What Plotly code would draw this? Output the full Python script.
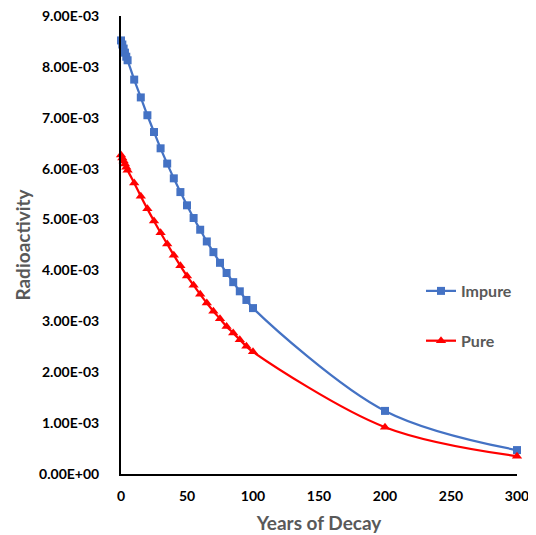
import plotly.graph_objects as go

years = [0, 1, 2, 3, 4, 5, 10, 15, 20, 25, 30, 35, 40, 45, 50, 55, 60, 65, 70, 75,
         80, 85, 90, 95, 100, 200, 300]
impure = [8.52e-3, 8.44e-3, 8.36e-3, 8.28e-3, 8.20e-3, 8.13e-3, 7.75e-3, 7.40e-3, 7.05e-3,
          6.72e-3, 6.40e-3, 6.10e-3, 5.81e-3, 5.54e-3, 5.28e-3, 5.03e-3, 4.80e-3,
          4.57e-3, 4.36e-3, 4.15e-3, 3.95e-3, 3.77e-3, 3.59e-3, 3.42e-3, 3.26e-3,
          1.24e-3, 4.7e-4]
pure = [6.27e-3, 6.21e-3, 6.15e-3, 6.09e-3, 6.03e-3, 5.97e-3, 5.72e-3, 5.46e-3, 5.21e-3,
        4.97e-3, 4.74e-3, 4.52e-3, 4.30e-3, 4.09e-3, 3.89e-3, 3.71e-3, 3.53e-3,
        3.36e-3, 3.20e-3, 3.05e-3, 2.90e-3, 2.77e-3, 2.64e-3, 2.51e-3, 2.40e-3,
        9.2e-4, 3.5e-4]
y_ticks = [0.0, 0.001, 0.002, 0.003, 0.004, 0.005, 0.006, 0.007, 0.008, 0.009]
x_ticks = [0, 50, 100, 150, 200, 250, 300]


def excel_sci(v):
    if v == 0:
        return "0.00E+00"
    s = f"{v:.2E}"
    mant, exp = s.split("E")
    sign = exp[0]
    num = int(exp[1:])
    return f"{mant}E{sign}{num:02d}"


y_text = [excel_sci(v) for v in y_ticks]

fig = go.Figure()
fig.add_trace(go.Scatter(
    x=years, y=impure, name="Impure", mode="lines+markers",
    line=dict(color="#4472C4", width=2.25, shape="spline", smoothing=1.0),
    marker=dict(symbol="square", size=8, color="#4472C4"),
    legendgroup="a", cliponaxis=False,
))
fig.add_trace(go.Scatter(
    x=years, y=pure, name="Pure", mode="lines+markers",
    line=dict(color="#FF0000", width=2.25, shape="spline", smoothing=1.0),
    marker=dict(symbol="triangle-up", size=9, color="#FF0000"),
    legendgroup="b", cliponaxis=False,
))

fig.update_layout(
    width=528, height=527,
    margin=dict(l=113, r=19, t=8, b=61, autoexpand=False),
    paper_bgcolor="white", plot_bgcolor="white",
    font=dict(family="Lato, sans-serif", color="black"),
    showlegend=True,
    legend=dict(
        x=1.0, y=0.345, xanchor="right", yanchor="middle",
        font=dict(size=16, color="#595959", family="Lato, sans-serif", weight="bold"),
        tracegroupgap=26, bgcolor="rgba(0,0,0,0)",
    ),
    xaxis=dict(
        range=[0, 300], tickvals=x_ticks, ticktext=[str(v) for v in x_ticks],
        showline=True, linecolor="black", linewidth=2, showgrid=False,
        zeroline=False, ticks="", ticklabelstandoff=8, automargin=False,
        ticklabeloverflow="allow",
        tickfont=dict(size=14, color="black", family="Lato, sans-serif", weight="bold"),
        title=dict(text="Years of Decay", standoff=14,
                   font=dict(size=19, color="#595959", family="Lato, sans-serif", weight="bold")),
    ),
    yaxis=dict(
        range=[0, 0.009], tickvals=y_ticks, ticktext=y_text,
        showline=True, linecolor="black", linewidth=2, showgrid=False,
        zeroline=False, ticks="", ticklabelstandoff=17, automargin=False,
        ticklabeloverflow="allow",
        tickfont=dict(size=14, color="black", family="Lato, sans-serif", weight="bold"),
        title=dict(text="Radioactivity", standoff=3,
                   font=dict(size=19, color="#595959", family="Lato, sans-serif", weight="bold")),
    ),
)

fig.write_html("out.html")
